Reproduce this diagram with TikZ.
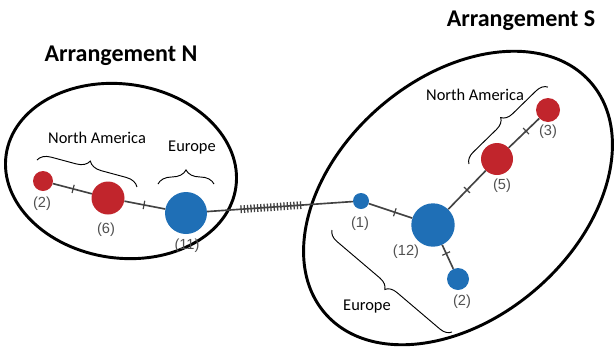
\documentclass[tikz,border=0pt]{standalone}
\usepackage{fontspec}
\setmainfont{Carlito}
\newfontfamily\numfont{Liberation Sans}
\usetikzlibrary{decorations.markings,decorations.pathreplacing}

\definecolor{hapred}{HTML}{C1252C}
\definecolor{hapblue}{HTML}{1F6FB6}
\definecolor{edgegray}{HTML}{424242}
\definecolor{countgray}{HTML}{505050}

\tikzset{
  hap/.style={circle, inner sep=0pt, minimum size=#1*0.06cm}, % #1 = radius
  redhap/.style={hap=#1, fill=hapred},
  bluehap/.style={hap=#1, fill=hapblue},
  count/.style={font=\numfont\fontsize{12.5}{14}\selectfont, text=countgray, inner sep=0pt},
  region/.style={font=\fontsize{14}{16}\selectfont, inner sep=0pt},
  title/.style={font=\bfseries\fontsize{20.5}{24}\selectfont, inner sep=0pt},
  ring/.style={line width=2.5pt},
  edge/.style={draw=edgegray, line width=1.4pt},
  mut/.style={postaction={decorate, decoration={markings,
      mark=at position #1 with {\draw[edgegray, line width=1pt] (0,-3.6pt) -- (0,3.6pt);}}}},
  hatch/.style={postaction={decorate, decoration={markings,
      mark=between positions 0.233 and 0.644 step 2.83pt with {\draw[edgegray, line width=1.1pt] (0,-3.3pt) -- (0,3.3pt);}}}},
  grp/.style={line width=0.8pt, decorate, decoration={brace, amplitude=#1}},
}

\begin{document}
\begin{tikzpicture}[x=0.03cm, y=0.03cm] % 1 unit = 1 px of the sketch
  \useasboundingbox (0,0) rectangle (614,-356);

  % Titles
  \node[title] (titleN) at (121,-56) {Arrangement N};
  \node[title] (titleS) at (521,-21) {Arrangement S};

  % Arrangement outlines
  \draw[ring, rotate around={-8:(121,-171)}] (121,-171) ellipse (3.48cm and 2.61cm);
  \draw[ring, rotate around={41:(458,-198)}] (458,-198) ellipse (5.28cm and 3.6cm);

  % Haplotypes, arrangement N
  \node[redhap=10]   (hapN2)  at (43,-181) {};
  \node[redhap=16.5] (hapN6)  at (108,-198) {};
  \node[bluehap=21]  (hapN11) at (186,-213) {};

  % Haplotypes, arrangement S
  \node[bluehap=8]    (hapS1)  at (361,-201) {};
  \node[bluehap=21.7] (hapS12) at (433,-225) {};
  \node[bluehap=11]   (hapS2)  at (458,-279) {};
  \node[redhap=16]    (hapS5)  at (497,-159) {};
  \node[redhap=12]    (hapS3)  at (548,-110) {};

  % Sample counts
  \node[count] (cN2)  at (42,-204)  {(2)};
  \node[count] (cN6)  at (106,-230) {(6)};
  \node[count] (cN11) at (187,-246) {(11)};
  \node[count] (cS1)  at (360,-224) {(1)};
  \node[count] (cS12) at (406,-252) {(12)};
  \node[count] (cS2)  at (462,-302) {(2)};
  \node[count] (cS5)  at (502,-186) {(5)};
  \node[count] (cS3)  at (548,-132) {(3)};

  % Mutational steps
  \draw[edge, mut=0.52] (hapN2) -- (hapN6);
  \draw[edge, mut=0.48] (hapN6) -- (hapN11);
  \draw[edge, hatch] (hapN11) -- (hapS1); % long branch between arrangements
  \draw[edge, mut=0.6] (hapS1) -- (hapS12);
  \draw[edge, mut=0.5] (hapS12) -- (hapS5);
  \draw[edge, mut=0.57] (hapS5) -- (hapS3);
  \draw[edge, mut=0.36] (hapS12) -- (hapS2);

  % Regions
  \draw[grp=11pt] (37,-160) -- (137,-187);
  \node[region] (naN) at (97,-138) {North America};
  \draw[grp=12pt] (158,-184) -- (214,-184);
  \node[region] (euN) at (192,-148) {Europe};
  \draw[grp=9.5pt] (469,-164) -- (548,-87);
  \node[region] (naS) at (475,-95) {North America};
  \draw[grp=9.5pt] (452,-332) -- (332,-230);
  \node[region] (euS) at (367,-307) {Europe};
\end{tikzpicture}
\end{document}
